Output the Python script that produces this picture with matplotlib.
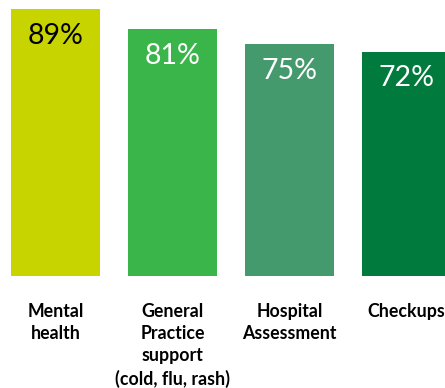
import numpy as np
import matplotlib.pyplot as plt

categories = ["Mental\nhealth", "General\nPractice\nsupport\n(cold, flu, rash)",
              "Hospital\nAssessment", "Checkups"]
values = [89, 81, 75, 72]
value_labels = ["89%", "81%", "75%", "72%"]
colors = ["#C8D400", "#3AB54A", "#44996D", "#007A3D"]
text_colors = ["black", "white", "white", "white"]

base = -17.7  # bars in the original start below zero

fig = plt.figure(figsize=(4.45, 3.88), dpi=100)
ax = fig.add_axes([0, 0, 1, 1])

x = np.arange(len(values))
heights = np.array(values) - base
ax.bar(x, heights, bottom=base, width=89 / 117, color=colors)

for i, v in enumerate(values):
    ax.text(x[i], v - 10.8, value_labels[i], ha="center", va="center",
            fontsize=20.5, color=text_colors[i], family="Lato")
    ax.text(x[i], -28.5, categories[i], ha="center", va="top",
            fontsize=12.8, color="black", family="Lato", fontweight="bold",
            linespacing=1.38)

ax.set_xlim(-55.5 / 117, (445 - 55.5) / 117)
ax.set_ylim(-62.6, 92.6)
ax.axis("off")

fig.savefig("out.png", dpi=100)
